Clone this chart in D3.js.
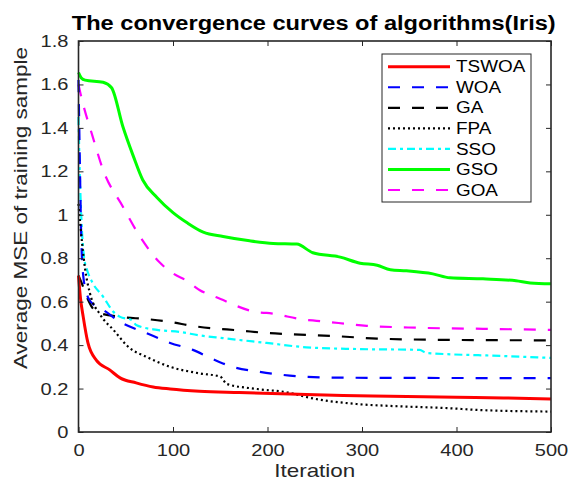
<!DOCTYPE html>
<html>
<head>
<meta charset="utf-8">
<script src="https://cdn.jsdelivr.net/npm/d3@7"></script>
<style>
  body { margin: 0; background: #fff; }
  svg { display: block; font-family: "Liberation Sans", Arial, sans-serif; }
</style>
</head>
<body>
<svg width="568" height="481"></svg>
<script>
// series values: [iteration, average MSE]
var tswoa = [[0,0.72],[2,0.62],[5,0.53],[10,0.41],[19,0.33],[33,0.286],[44,0.249],[61,0.226],[79,0.207],[97,0.198],
   [128,0.188],[170,0.182],[224,0.175],[280,0.168],[330,0.165],[400,0.16],[450,0.157],[500,0.152]];
var woa = [[0,1.62],[1,1.35],[2,1.1],[3,0.88],[5,0.72],[8,0.65],[10,0.62],[18,0.58],[26,0.562],[44,0.507],[72,0.455],
   [97,0.41],[121,0.378],[140,0.34],[163,0.3],[192,0.277],[241,0.254],[280,0.25],[500,0.248]];
var ga = [[0,0.72],[3,0.69],[9,0.62],[19,0.553],[44,0.53],[72,0.52],[97,0.507],[121,0.488],[174,0.466],[199,0.456],
   [224,0.45],[277,0.44],[316,0.43],[393,0.424],[500,0.422]];
var fpa = [[0,1.05],[2,0.95],[4,0.86],[7,0.75],[12,0.64],[23,0.54],[37,0.47],[54,0.387],[72,0.346],[97,0.3],[128,0.27],
   [150,0.255],[157,0.221],[189,0.198],[224,0.18],[241,0.161],[294,0.129],[330,0.12],[390,0.11],[425,0.101],[500,0.094]];
var sso = [[0,1.45],[1,1.25],[2,1.1],[4,0.9],[6,0.8],[9,0.747],[15,0.686],[26,0.623],[37,0.553],[44,0.53],[56,0.516],
   [61,0.493],[83,0.47],[107,0.461],[128,0.445],[153,0.432],[199,0.41],[241,0.39],[294,0.382],[361,0.378],[368,0.364],
   [449,0.35],[500,0.341]];
var gso = [[0,1.655],[3,1.63],[7,1.62],[26,1.61],[35,1.585],[47,1.405],[58,1.27],[68,1.16],[83,1.08],[100,1.01],
   [115,0.963],[132,0.92],[153,0.9],[181,0.88],[206,0.868],[231,0.865],[248,0.825],[277,0.805],[298,0.777],[316,0.768],
   [330,0.747],[347,0.742],[375,0.728],[393,0.71],[428,0.705],[463,0.696],[478,0.686],[500,0.682]];
var goa = [[0,1.6],[2,1.56],[15,1.36],[26,1.207],[47,1.037],[65,0.9],[86,0.78],[100,0.73],[115,0.695],[128,0.654],
   [146,0.62],[192,0.55],[199,0.548],[241,0.516],[252,0.512],[305,0.489],[358,0.48],[428,0.475],[500,0.47]];

var seriesNames = ['TSWOA', 'WOA', 'GA', 'FPA', 'SSO', 'GSO', 'GOA'];
var seriesData = [tswoa, woa, ga, fpa, sso, gso, goa];
var xTicks = [0, 100, 200, 300, 400, 500];
var yTicks = [0, 0.2, 0.4, 0.6, 0.8, 1, 1.2, 1.4, 1.6, 1.8];

var styles = {
   TSWOA: {color: '#ff0000', width: 3, dash: null},
   WOA: {color: '#0000ff', width: 2.2, dash: '12,12'},
   GA: {color: '#000000', width: 2.2, dash: '12,12'},
   FPA: {color: '#000000', width: 2.2, dash: '2,3'},
   SSO: {color: '#00ffff', width: 2.2, dash: '8,4,3,4'},
   GSO: {color: '#00ff00', width: 3, dash: null},
   GOA: {color: '#ff00ff', width: 2.2, dash: '12,12'}
};

var svg = d3.select('svg');
var margin = {top: 41, right: 17, bottom: 49, left: 78.5};
var width = +svg.attr('width') - margin.left - margin.right;
var height = +svg.attr('height') - margin.top - margin.bottom;
var ink = '#262626';
var STRETCH = 1.18; // the source picture is widened horizontally

// widen text glyphs the way the reference looks
function stretch(sel) {
   sel.each(function () {
      var w = this.getComputedTextLength();
      d3.select(this).attr('textLength', w * STRETCH).attr('lengthAdjust', 'spacingAndGlyphs');
   });
}

var g = svg.append('g').attr('transform', 'translate(' + margin.left + ',' + margin.top + ')');

var x = d3.scaleLinear().domain([0, 500]).range([0, width]);
var y = d3.scaleLinear().domain([0, 1.8]).range([height, 0]);

// curves
var line = d3.line()
   .x(function (d) { return x(d[0]); })
   .y(function (d) { return y(d[1]); })
   .curve(d3.curveMonotoneX);

var drawOrder = ['GSO', 'GOA', 'GA', 'SSO', 'WOA', 'FPA', 'TSWOA'];
drawOrder.forEach(function (name) {
   var st = styles[name];
   g.append('path')
      .datum(seriesData[seriesNames.indexOf(name)])
      .attr('fill', 'none')
      .attr('stroke', st.color)
      .attr('stroke-width', st.width)
      .attr('stroke-dasharray', st.dash)
      .attr('d', line);
});

// axes, MATLAB style box with ticks pointing in
function styleAxis(a) {
   a.select('.domain').remove();
   a.selectAll('.tick line').attr('stroke', ink).attr('stroke-width', 1);
   a.selectAll('.tick text').attr('fill', ink).style('font-size', '17px');
}

var xAxis = g.append('g')
   .attr('transform', 'translate(0,' + height + ')')
   .call(d3.axisBottom(x).tickValues(xTicks).tickSizeInner(-5).tickSizeOuter(0).tickPadding(12));
styleAxis(xAxis);
stretch(xAxis.selectAll('.tick text'));

var yAxis = g.append('g')
   .call(d3.axisLeft(y).tickValues(yTicks).tickFormat(d3.format('~g')).tickSizeInner(-5).tickSizeOuter(0).tickPadding(10));
styleAxis(yAxis);
stretch(yAxis.selectAll('.tick text'));

var topAxis = g.append('g')
   .call(d3.axisTop(x).tickValues(xTicks).tickSizeInner(-5).tickSizeOuter(0).tickFormat(''));
styleAxis(topAxis);

var rightAxis = g.append('g')
   .attr('transform', 'translate(' + width + ',0)')
   .call(d3.axisRight(y).tickValues(yTicks).tickSizeInner(-5).tickSizeOuter(0).tickFormat(''));
styleAxis(rightAxis);

g.append('rect')
   .attr('width', width)
   .attr('height', height)
   .attr('fill', 'none')
   .attr('stroke', ink)
   .attr('stroke-width', 1.6);

// title and axis labels
var title = svg.append('text')
   .attr('x', margin.left + width / 2 - 1)
   .attr('y', 30)
   .attr('text-anchor', 'middle')
   .attr('fill', '#000')
   .style('font-size', '20px')
   .style('font-weight', 'bold')
   .text('The convergence curves of algorithms(Iris)');
stretch(title);

var xLabel = svg.append('text')
   .attr('x', margin.left + width / 2)
   .attr('y', 477)
   .attr('text-anchor', 'middle')
   .attr('fill', ink)
   .style('font-size', '19px')
   .text('Iteration');
stretch(xLabel);

svg.append('text')
   .attr('transform', 'translate(27,208) rotate(-90)')
   .attr('text-anchor', 'middle')
   .attr('fill', ink)
   .style('font-size', '18px')
   .attr('textLength', 322)
   .attr('lengthAdjust', 'spacingAndGlyphs')
   .text('Average MSE of training sample');

// legend
var legendBox = {x: 382, y: 54, w: 149, h: 148};
var legend = svg.append('g');
legend.append('rect')
   .attr('x', legendBox.x)
   .attr('y', legendBox.y)
   .attr('width', legendBox.w)
   .attr('height', legendBox.h)
   .attr('fill', '#fff')
   .attr('stroke', ink)
   .attr('stroke-width', 1);

var items = legend.selectAll('.item')
   .data(seriesNames)
   .enter().append('g')
   .attr('class', 'item')
   .attr('transform', function (d, i) {
      return 'translate(' + legendBox.x + ',' + (legendBox.y + 12.7 + i * 20.55) + ')';
   });

items.append('line')
   .attr('x1', 6)
   .attr('x2', 68)
   .attr('stroke', function (d) { return styles[d].color; })
   .attr('stroke-width', function (d) { return styles[d].width; })
   .attr('stroke-dasharray', function (d) { return styles[d].dash; });

var legendText = items.append('text')
   .attr('x', 74)
   .attr('dy', '0.35em')
   .attr('fill', '#000')
   .style('font-size', '16px')
   .text(function (d) { return d; });
stretch(legendText);
</script>
</body>
</html>
